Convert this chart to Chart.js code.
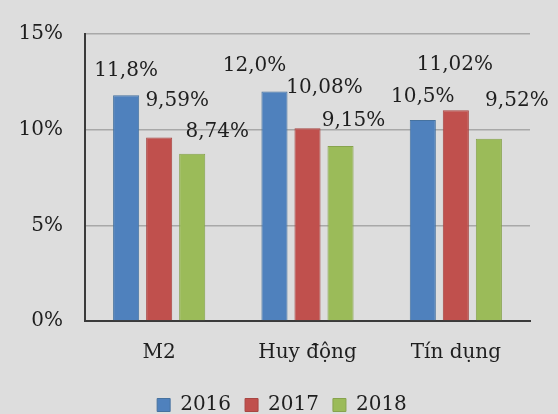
<!DOCTYPE html>
<html>
<head>
<meta charset="utf-8">
<script src="https://cdn.jsdelivr.net/npm/chart.js@4.4.0/dist/chart.umd.min.js"></script>
<style>
	html, body { margin: 0; padding: 0; background: #dddddd; overflow: hidden; }
	#wrap { width: 558px; height: 414px; }
</style>
</head>
<body>
<div id="wrap"><canvas id="chart" width="558" height="414"></canvas></div>
<script>
const categories = ['M2', 'Huy động', 'Tín dụng'];
const years = ['2016', '2017', '2018'];
const values2016 = [11.8, 12.0, 10.5];
const values2017 = [9.59, 10.08, 11.02];
const values2018 = [8.74, 9.15, 9.52];
const labelDecimals = [1, 2, 2];
const yTicks = [0, 5, 10, 15];

// label placement (px), relative to top centre of each bar
const labelShift = [
	[[0, 24], [-20, 26], [0, 23]],
	[[18, 37], [17, 40], [-1, 45]],
	[[25, 22], [13, 25], [28, 38]],
];

const fontFamily = '"DejaVu Serif", serif';
const textColor = '#1e1e1e';

const dataLabels = {
	id: 'dataLabels',
	afterLayout(chart) {
		// centre the legend like the original
		chart.legend.left += 17;
		chart.legend.right += 17;
	},
	afterDatasetsDraw(chart) {
		const ctx = chart.ctx;
		ctx.save();
		ctx.font = '20px ' + fontFamily;
		ctx.fillStyle = textColor;
		ctx.textAlign = 'center';
		ctx.textBaseline = 'middle';
		chart.data.datasets.forEach((ds, i) => {
			const meta = chart.getDatasetMeta(i);
			meta.data.forEach((bar, j) => {
				const text = ds.data[j].toFixed(labelDecimals[i]).replace('.', ',') + '%';
				const [dx, dy] = labelShift[i][j];
				ctx.fillText(text, bar.x + dx, bar.y - dy);
			});
		});
		ctx.restore();
	},
};

const config = {
	type: 'bar',
	data: {
		labels: categories,
		datasets: [
			{ label: years[0], data: values2016, backgroundColor: '#4f81bd', borderColor: '#46729f', borderWidth: 1 },
			{ label: years[1], data: values2017, backgroundColor: '#c0504d', borderColor: '#a84643', borderWidth: 1 },
			{ label: years[2], data: values2018, backgroundColor: '#9bbb59', borderColor: '#87a34d', borderWidth: 1 },
		],
	},
	options: {
		responsive: false,
		animation: false,
		categoryPercentage: 0.668,
		barPercentage: 0.79,
		layout: { padding: { top: 27, right: 28, bottom: -11, left: 0 } },
		plugins: {
			legend: {
				position: 'bottom',
				labels: {
					boxWidth: 13,
					boxHeight: 13,
					padding: 14,
					color: textColor,
					font: { family: fontFamily, size: 20 },
				},
			},
			tooltip: { enabled: false },
		},
		scales: {
			x: {
				grid: { display: false, drawTicks: false },
				border: { display: true, color: '#3a3a3a', width: 2 },
				ticks: { padding: 20, color: textColor, font: { family: fontFamily, size: 20 } },
				afterFit(scale) { scale.height = 60; },
			},
			y: {
				min: 0,
				max: 15,
				afterBuildTicks(scale) { scale.ticks = yTicks.map(v => ({ value: v })); },
				grid: { color: '#a8a8a8', lineWidth: 1.5, drawTicks: false },
				border: { display: true, color: '#3a3a3a', width: 2 },
				ticks: {
					padding: 22,
					color: textColor,
					font: { family: fontFamily, size: 20 },
					callback: v => v + '%',
				},
				afterFit(scale) { scale.width = 85; },
			},
		},
	},
	plugins: [dataLabels],
};

new Chart(document.getElementById('chart'), config);
</script>
</body>
</html>
